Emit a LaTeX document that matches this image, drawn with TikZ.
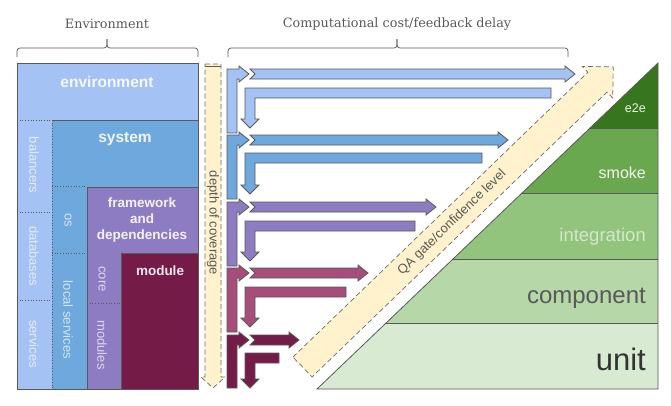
\documentclass[tikz,border=0pt]{standalone}
\usepackage{fontspec}
\setmainfont{Liberation Sans}
\newfontfamily\headfont{DejaVu Serif}
\definecolor{envblue}{HTML}{A4C2F4}
\definecolor{sysblue}{HTML}{6FA8DC}
\definecolor{fwpurple}{HTML}{8E7CC3}
\definecolor{rosered}{HTML}{A64D79}
\definecolor{modred}{HTML}{741B47}
\definecolor{gatecream}{HTML}{FFF2CC}
\definecolor{edgegrey}{HTML}{595959}
\definecolor{tiertop}{HTML}{38761D}
\definecolor{tiersmoke}{HTML}{6AA84F}
\definecolor{tierint}{HTML}{93C47D}
\definecolor{tiercomp}{HTML}{B6D7A8}
\definecolor{tierunit}{HTML}{D9EAD3}
\tikzset{
  box/.style={draw=edgegrey, line width=0.8pt},
  divider/.style={draw=edgegrey, line width=0.7pt, dotted},
  flow/.style={draw=edgegrey, line width=0.8pt, line join=miter},
  gate/.style={draw=edgegrey!90, fill=gatecream, line width=0.7pt, dash pattern=on 5pt off 3pt},
  bracket/.style={draw=edgegrey, line width=0.7pt, rounded corners=3pt},
  headline/.style={text=edgegrey, font=\headfont\fontsize{12.8}{13}\selectfont},
  title/.style={text=white, text opacity=0.9, font=\bfseries\fontsize{15.5}{16}\selectfont},
  subtitle/.style={text=white, text opacity=0.9, align=center, font=\bfseries\fontsize{13.5}{16}\selectfont},
  collabel/.style={text=white, text opacity=0.7, rotate=-90, font=\fontsize{13}{13}\selectfont},
  tierlabel/.style={anchor=east, inner sep=0pt},
}
\begin{document}
\begin{tikzpicture}[x=1pt, y=-1pt]
\useasboundingbox (0,0) rectangle (671,405);
% headings and braces
\node[headline] (envhead) at (107,24) {Environment};
\node[headline] (costhead) at (397,24) {Computational cost/feedback delay};
\draw[bracket] (17,57) -- (17,48) -- (107,48) -- (107,39);
\draw[bracket] (107,39) -- (107,48) -- (198,48) -- (198,57);
\draw[bracket] (228,57) -- (228,48) -- (397,48) -- (397,39);
\draw[bracket] (397,39) -- (397,48) -- (568,48) -- (568,57);
% nested environment blocks
\draw[box, fill=envblue] (17,63) rectangle (198,389);
\fill[sysblue] (52,120) rectangle (198,389);
\draw[box] (52,120) -- (198,120) -- (198,389) -- (52,389);
\draw[box, fill=fwpurple] (87,187) rectangle (198,389);
\draw[box, fill=modred] (121,253) rectangle (198,389);
\draw[divider] (52,120) -- (52,389);
\draw[divider] (17,120) -- (52,120);
\draw[divider] (17,212) -- (52,212);
\draw[divider] (17,300) -- (52,300);
\draw[divider] (52,186) -- (87,186);
\draw[divider] (52,253) -- (87,253);
\draw[divider] (87,303) -- (121,303);
\node[title] (envtitle) at (107,82) {environment};
\node[title] (systitle) at (125,139) {system};
\node[subtitle] (fwtitle) at (142,220) {framework\\and\\dependencies};
\node[subtitle] (modtitle) at (160,271) {module};
\node[collabel] (balancers) at (34,165) {balancers};
\node[collabel] (databases) at (34,256) {databases};
\node[collabel] (services) at (34,344) {services};
\node[collabel] (os) at (68,220) {os};
\node[collabel] (localsvc) at (68,320) {local services};
\node[collabel] (core) at (102,279) {core};
\node[collabel] (modules) at (102,345) {modules};
% depth of coverage
\draw[gate] (205,64) -- (221,64) -- (221,377) -- (225,377) -- (213,388) -- (201,377) -- (205,377) -- cycle;
\draw[edgegrey, line width=0.7pt] (205,66.5) -- (221,66.5);
\node[rotate=-90, text=edgegrey, font=\fontsize{13}{13}\selectfont] (depth) at (213,223) {depth of coverage};
% feedback loops
\draw[flow, fill=envblue] (227,133) -- (227,69) -- (239,69) -- (239,66) -- (249,74) -- (239,82) -- (239,79) -- (237,79) -- (237,133) -- cycle;
\draw[flow, fill=envblue] (250,69) -- (565,69) -- (565,66) -- (575,74) -- (565,82) -- (565,79) -- (250,79) -- (255,74) -- cycle;
\draw[flow, fill=envblue] (551,88) -- (245,88) -- (245,119) -- (241,119) -- (250,128) -- (259,119) -- (255,119) -- (255,98) -- (551,98) -- cycle;
\draw[flow, fill=sysblue] (227,199) -- (227,135) -- (239,135) -- (239,132) -- (249,140) -- (239,148) -- (239,145) -- (237,145) -- (237,199) -- cycle;
\draw[flow, fill=sysblue] (250,135) -- (498,135) -- (498,132) -- (508,140) -- (498,148) -- (498,145) -- (250,145) -- (255,140) -- cycle;
\draw[flow, fill=sysblue] (482,153) -- (245,153) -- (245,185) -- (241,185) -- (250,194) -- (259,185) -- (255,185) -- (255,163) -- (482,163) -- cycle;
\draw[flow, fill=fwpurple] (227,266) -- (227,202) -- (239,202) -- (239,199) -- (249,207) -- (239,215) -- (239,212) -- (237,212) -- (237,266) -- cycle;
\draw[flow, fill=fwpurple] (250,202) -- (426,202) -- (426,199) -- (436,207) -- (426,215) -- (426,212) -- (250,212) -- (255,207) -- cycle;
\draw[flow, fill=fwpurple] (415,221) -- (245,221) -- (245,252) -- (241,252) -- (250,261) -- (259,252) -- (255,252) -- (255,231) -- (415,231) -- cycle;
\draw[flow, fill=rosered] (227,332) -- (227,268) -- (239,268) -- (239,265) -- (249,273) -- (239,281) -- (239,278) -- (237,278) -- (237,332) -- cycle;
\draw[flow, fill=rosered] (250,268) -- (358,268) -- (358,265) -- (368,273) -- (358,281) -- (358,278) -- (250,278) -- (255,273) -- cycle;
\draw[flow, fill=rosered] (346,287) -- (245,287) -- (245,318) -- (241,318) -- (250,327) -- (259,318) -- (255,318) -- (255,297) -- (346,297) -- cycle;
\draw[flow, fill=modred] (227,388) -- (227,335) -- (239,335) -- (239,332) -- (249,340) -- (239,348) -- (239,345) -- (237,345) -- (237,388) -- cycle;
\draw[flow, fill=modred] (250,335) -- (289,335) -- (289,332) -- (299,340) -- (289,348) -- (289,345) -- (250,345) -- (255,340) -- cycle;
\draw[flow, fill=modred] (279,353) -- (245,353) -- (245,379) -- (241,379) -- (250,388) -- (259,379) -- (255,379) -- (255,363) -- (279,363) -- cycle;
% QA gate
\begin{scope}[shift={(302.5,367)}, rotate=44]
\draw[gate] (0,-13.8) -- (410,-13.8) -- (410,-22) -- (432,0) -- (410,22) -- (410,13.8) -- (0,13.8) -- cycle;
\node[rotate=44, text=edgegrey, font=\fontsize{13}{13}\selectfont] (qagate) at (208,0) {QA gate/confidence level};
\end{scope}
% test pyramid
\begin{scope}
\clip (317,389) -- (658,389) -- (658,63) -- cycle;
\fill[tierunit] (300,323) rectangle (660,390);
\fill[tiercomp] (300,259) rectangle (660,323);
\fill[tierint] (300,193) rectangle (660,259);
\fill[tiersmoke] (300,128) rectangle (660,193);
\fill[tiertop] (300,60) rectangle (660,128);
\end{scope}
\draw[box] (386,323) -- (658,323);
\draw[box] (453,259) -- (658,259);
\draw[box] (522,193) -- (658,193);
\draw[box] (590,128) -- (658,128);
\draw[box] (317,389) -- (658,389) -- (658,63) -- cycle;
\node[tierlabel, text=white, text opacity=0.9, font=\fontsize{12.5}{13}\selectfont] (e2e) at (646,108) {e2e};
\node[tierlabel, text=white, text opacity=0.9, font=\fontsize{16}{16}\selectfont] (smoke) at (646,173) {smoke};
\node[tierlabel, text=white, text opacity=0.6, font=\fontsize{18.5}{19}\selectfont] (integration) at (646,237) {integration};
\node[tierlabel, text=edgegrey, font=\fontsize{24}{24}\selectfont] (component) at (646,298) {component};
\node[tierlabel, text=black!80, font=\fontsize{31}{31}\selectfont] (unit) at (646,359) {unit};
\end{tikzpicture}
\end{document}
